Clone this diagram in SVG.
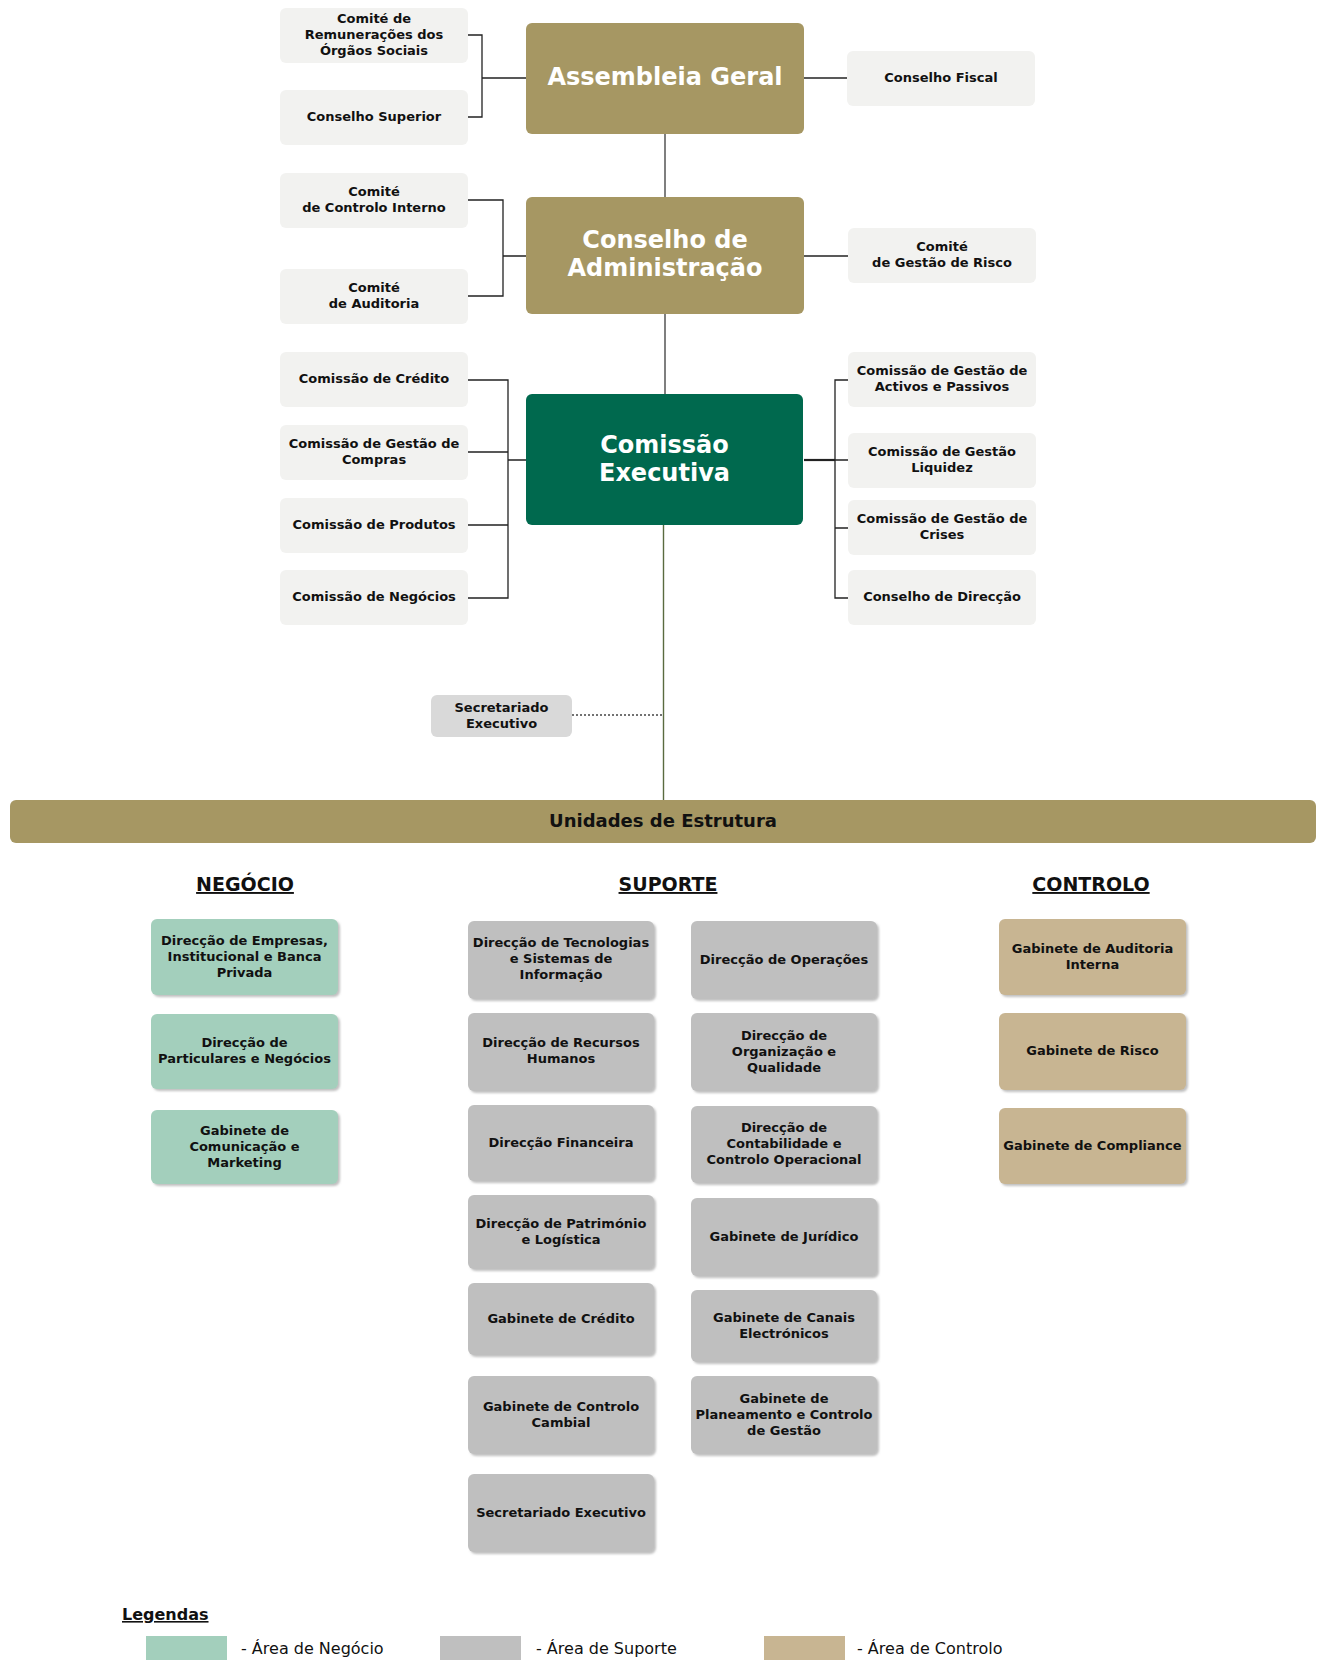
<svg xmlns="http://www.w3.org/2000/svg" width="1318" height="1660" viewBox="0 0 1318 1660">
  <defs>
    <filter id="shadow" x="-5%" y="-5%" width="115%" height="120%">
      <feDropShadow dx="2" dy="2" stdDeviation="1.2" flood-color="#8c8c8c" flood-opacity="0.55"/>
    </filter>
  </defs>
  <style>
    text { font-family: "DejaVu Sans", Verdana, sans-serif; }
    .sm { font-weight: bold; font-size: 13px; fill: #111; text-anchor: middle; transform: translateY(-1px); }
    .big { font-weight: bold; font-size: 24px; fill: #fff; text-anchor: middle; }
    .box { fill: #f2f2f0; }
    .gov { fill: #a69763; }
    .exec { fill: #00694e; }
    .neg { fill: #a3cfbc; filter: url(#shadow); }
    .sup { fill: #bfbfbf; filter: url(#shadow); }
    .ctl { fill: #c8b592; filter: url(#shadow); }
    .sec { fill: #d9d9d9; }
    .link { fill: none; stroke: #222; stroke-width: 1.3; }
    .trunk { fill: none; stroke: #555; stroke-width: 1.5; }
    .head { font-weight: bold; font-size: 19px; fill: #111; text-anchor: middle; text-decoration: underline; }
    .leg { font-size: 16px; fill: #111; }
  </style>

  <!-- connectors -->
  <g id="connectors">
    <path class="link" d="M468,35 H482 V117 H468 M482,78 H526"/>
    <path class="link" d="M804,78 H847"/>
    <path class="trunk" d="M665,134 V197 M665,314 V394"/>
    <path class="link" d="M468,200 H503 V296 H468 M503,256 H526"/>
    <path class="link" d="M804,256 H848"/>
    <path class="link" d="M468,380 H508 V598 H468 M468,452 H508 M468,525 H508 M508,460 H526"/>
    <path class="link" d="M848,380 H835 V598 H848 M835,460 H848 M835,528 H848"/>
    <path class="link" d="M804,460 H835" style="stroke-width:2.2"/>
    <path d="M663.5,525 V800" fill="none" stroke="#5a6b40" stroke-width="1.4"/>
    <path d="M572,715 H663" fill="none" stroke="#444" stroke-width="1.3" stroke-dasharray="2,2"/>
  </g>

  <!-- governing bodies -->
  <g id="assembleia">
    <rect class="gov" x="526" y="23" width="278" height="111" rx="6"/>
    <text class="big" x="665" y="84.5">Assembleia Geral</text>
  </g>
  <g id="conselho-admin">
    <rect class="gov" x="526" y="197" width="278" height="117" rx="6"/>
    <text class="big" x="665" y="248">Conselho de</text>
    <text class="big" x="665" y="276">Administração</text>
  </g>
  <g id="comissao-executiva">
    <rect class="exec" x="526" y="394" width="277" height="131" rx="6"/>
    <text class="big" x="664.5" y="453">Comissão</text>
    <text class="big" x="664.5" y="481">Executiva</text>
  </g>

  <!-- committees around the board -->
  <g id="comite-remuneracoes">
    <rect class="box" x="280" y="8" width="188" height="55" rx="6"/>
    <text class="sm" x="374" y="24">Comité de</text>
    <text class="sm" x="374" y="40">Remunerações dos</text>
    <text class="sm" x="374" y="56">Órgãos Sociais</text>
  </g>
  <g id="conselho-superior">
    <rect class="box" x="280" y="90" width="188" height="55" rx="6"/>
    <text class="sm" x="374" y="121.5">Conselho Superior</text>
  </g>
  <g id="conselho-fiscal">
    <rect class="box" x="847" y="51" width="188" height="55" rx="6"/>
    <text class="sm" x="941" y="83">Conselho Fiscal</text>
  </g>
  <g id="comite-controlo-interno">
    <rect class="box" x="280" y="173" width="188" height="55" rx="6"/>
    <text class="sm" x="374" y="197">Comité</text>
    <text class="sm" x="374" y="213">de Controlo Interno</text>
  </g>
  <g id="comite-auditoria">
    <rect class="box" x="280" y="269" width="188" height="55" rx="6"/>
    <text class="sm" x="374" y="293">Comité</text>
    <text class="sm" x="374" y="309">de Auditoria</text>
  </g>
  <g id="comite-risco">
    <rect class="box" x="848" y="228" width="188" height="55" rx="6"/>
    <text class="sm" x="942" y="252">Comité</text>
    <text class="sm" x="942" y="268">de Gestão de Risco</text>
  </g>

  <!-- commissions of the executive committee -->
  <g id="comissao-credito">
    <rect class="box" x="280" y="352" width="188" height="55" rx="6"/>
    <text class="sm" x="374" y="384">Comissão de Crédito</text>
  </g>
  <g id="comissao-compras">
    <rect class="box" x="280" y="425" width="188" height="55" rx="6"/>
    <text class="sm" x="374" y="449">Comissão de Gestão de</text>
    <text class="sm" x="374" y="465">Compras</text>
  </g>
  <g id="comissao-produtos">
    <rect class="box" x="280" y="498" width="188" height="55" rx="6"/>
    <text class="sm" x="374" y="530">Comissão de Produtos</text>
  </g>
  <g id="comissao-negocios">
    <rect class="box" x="280" y="570" width="188" height="55" rx="6"/>
    <text class="sm" x="374" y="602">Comissão de Negócios</text>
  </g>
  <g id="comissao-activos">
    <rect class="box" x="848" y="352" width="188" height="55" rx="6"/>
    <text class="sm" x="942" y="376">Comissão de Gestão de</text>
    <text class="sm" x="942" y="392">Activos e Passivos</text>
  </g>
  <g id="comissao-liquidez">
    <rect class="box" x="848" y="433" width="188" height="55" rx="6"/>
    <text class="sm" x="942" y="457">Comissão de Gestão</text>
    <text class="sm" x="942" y="473">Liquidez</text>
  </g>
  <g id="comissao-crises">
    <rect class="box" x="848" y="500" width="188" height="55" rx="6"/>
    <text class="sm" x="942" y="524">Comissão de Gestão de</text>
    <text class="sm" x="942" y="540">Crises</text>
  </g>
  <g id="conselho-direccao">
    <rect class="box" x="848" y="570" width="188" height="55" rx="6"/>
    <text class="sm" x="942" y="602">Conselho de Direcção</text>
  </g>

  <g id="secretariado-ce">
    <rect class="sec" x="431" y="695" width="141" height="42" rx="6"/>
    <text class="sm" x="501.5" y="712.5">Secretariado</text>
    <text class="sm" x="501.5" y="728.5">Executivo</text>
  </g>

  <!-- structural units banner -->
  <g id="unidades">
    <rect class="gov" x="10" y="800" width="1306" height="43" rx="6"/>
    <text x="663" y="827" style="font-weight:bold;font-size:18px;fill:#111;text-anchor:middle">Unidades de Estrutura</text>
  </g>

  <text class="head" x="245" y="891">NEGÓCIO</text>
  <text class="head" x="668" y="891">SUPORTE</text>
  <text class="head" x="1091" y="891">CONTROLO</text>

  <!-- business area -->
  <g id="dir-empresas">
    <rect class="neg" x="151" y="919" width="187" height="76" rx="6"/>
    <text class="sm" x="244.5" y="945.5">Direcção de Empresas,</text>
    <text class="sm" x="244.5" y="961.5">Institucional e Banca</text>
    <text class="sm" x="244.5" y="977.5">Privada</text>
  </g>
  <g id="dir-particulares">
    <rect class="neg" x="151" y="1014" width="187" height="75" rx="6"/>
    <text class="sm" x="244.5" y="1048">Direcção de</text>
    <text class="sm" x="244.5" y="1064">Particulares e Negócios</text>
  </g>
  <g id="gab-comunicacao">
    <rect class="neg" x="151" y="1110" width="187" height="74" rx="6"/>
    <text class="sm" x="244.5" y="1135.5">Gabinete de</text>
    <text class="sm" x="244.5" y="1151.5">Comunicação e</text>
    <text class="sm" x="244.5" y="1167.5">Marketing</text>
  </g>

  <!-- support area -->
  <g id="dir-tecnologias">
    <rect class="sup" x="468" y="921" width="186" height="78" rx="6"/>
    <text class="sm" x="561" y="947.5">Direcção de Tecnologias</text>
    <text class="sm" x="561" y="963.5">e Sistemas de</text>
    <text class="sm" x="561" y="979.5">Informação</text>
  </g>
  <g id="dir-operacoes">
    <rect class="sup" x="691" y="921" width="186" height="78" rx="6"/>
    <text class="sm" x="784" y="964.5">Direcção de Operações</text>
  </g>
  <g id="dir-rh">
    <rect class="sup" x="468" y="1013" width="186" height="78" rx="6"/>
    <text class="sm" x="561" y="1048">Direcção de Recursos</text>
    <text class="sm" x="561" y="1064">Humanos</text>
  </g>
  <g id="dir-organizacao">
    <rect class="sup" x="691" y="1013" width="186" height="78" rx="6"/>
    <text class="sm" x="784" y="1040.5">Direcção de</text>
    <text class="sm" x="784" y="1056.5">Organização e</text>
    <text class="sm" x="784" y="1072.5">Qualidade</text>
  </g>
  <g id="dir-financeira">
    <rect class="sup" x="468" y="1105" width="186" height="76" rx="6"/>
    <text class="sm" x="561" y="1147.5">Direcção Financeira</text>
  </g>
  <g id="dir-contabilidade">
    <rect class="sup" x="691" y="1106" width="186" height="77" rx="6"/>
    <text class="sm" x="784" y="1133">Direcção de</text>
    <text class="sm" x="784" y="1149">Contabilidade e</text>
    <text class="sm" x="784" y="1165">Controlo Operacional</text>
  </g>
  <g id="dir-patrimonio">
    <rect class="sup" x="468" y="1195" width="186" height="74" rx="6"/>
    <text class="sm" x="561" y="1228.5">Direcção de Património</text>
    <text class="sm" x="561" y="1244.5">e Logística</text>
  </g>
  <g id="gab-juridico">
    <rect class="sup" x="691" y="1198" width="186" height="78" rx="6"/>
    <text class="sm" x="784" y="1241.5">Gabinete de Jurídico</text>
  </g>
  <g id="gab-credito">
    <rect class="sup" x="468" y="1283" width="186" height="72" rx="6"/>
    <text class="sm" x="561" y="1323.5">Gabinete de Crédito</text>
  </g>
  <g id="gab-canais">
    <rect class="sup" x="691" y="1290" width="186" height="72" rx="6"/>
    <text class="sm" x="784" y="1322.5">Gabinete de Canais</text>
    <text class="sm" x="784" y="1338.5">Electrónicos</text>
  </g>
  <g id="gab-cambial">
    <rect class="sup" x="468" y="1376" width="186" height="78" rx="6"/>
    <text class="sm" x="561" y="1411.5">Gabinete de Controlo</text>
    <text class="sm" x="561" y="1427.5">Cambial</text>
  </g>
  <g id="gab-planeamento">
    <rect class="sup" x="691" y="1376" width="186" height="78" rx="6"/>
    <text class="sm" x="784" y="1403.5">Gabinete de</text>
    <text class="sm" x="784" y="1419.5">Planeamento e Controlo</text>
    <text class="sm" x="784" y="1435.5">de Gestão</text>
  </g>
  <g id="secretariado-executivo">
    <rect class="sup" x="468" y="1474" width="186" height="78" rx="6"/>
    <text class="sm" x="561" y="1517.5">Secretariado Executivo</text>
  </g>

  <!-- control area -->
  <g id="gab-auditoria">
    <rect class="ctl" x="999" y="919" width="187" height="76" rx="6"/>
    <text class="sm" x="1092.5" y="953.5">Gabinete de Auditoria</text>
    <text class="sm" x="1092.5" y="969.5">Interna</text>
  </g>
  <g id="gab-risco">
    <rect class="ctl" x="999" y="1013" width="187" height="77" rx="6"/>
    <text class="sm" x="1092.5" y="1056">Gabinete de Risco</text>
  </g>
  <g id="gab-compliance">
    <rect class="ctl" x="999" y="1108" width="187" height="76" rx="6"/>
    <text class="sm" x="1092.5" y="1150.5">Gabinete de Compliance</text>
  </g>

  <!-- legend -->
  <g id="legenda">
    <text x="122" y="1620" style="font-weight:bold;font-size:16px;fill:#111;text-decoration:underline">Legendas</text>
    <rect x="146" y="1636" width="81" height="26" fill="#a3cfbc"/>
    <text class="leg" x="241" y="1654">- Área de Negócio</text>
    <rect x="440" y="1636" width="81" height="26" fill="#bfbfbf"/>
    <text class="leg" x="536" y="1654">- Área de Suporte</text>
    <rect x="764" y="1636" width="81" height="26" fill="#c8b592"/>
    <text class="leg" x="857" y="1654">- Área de Controlo</text>
  </g>
</svg>
